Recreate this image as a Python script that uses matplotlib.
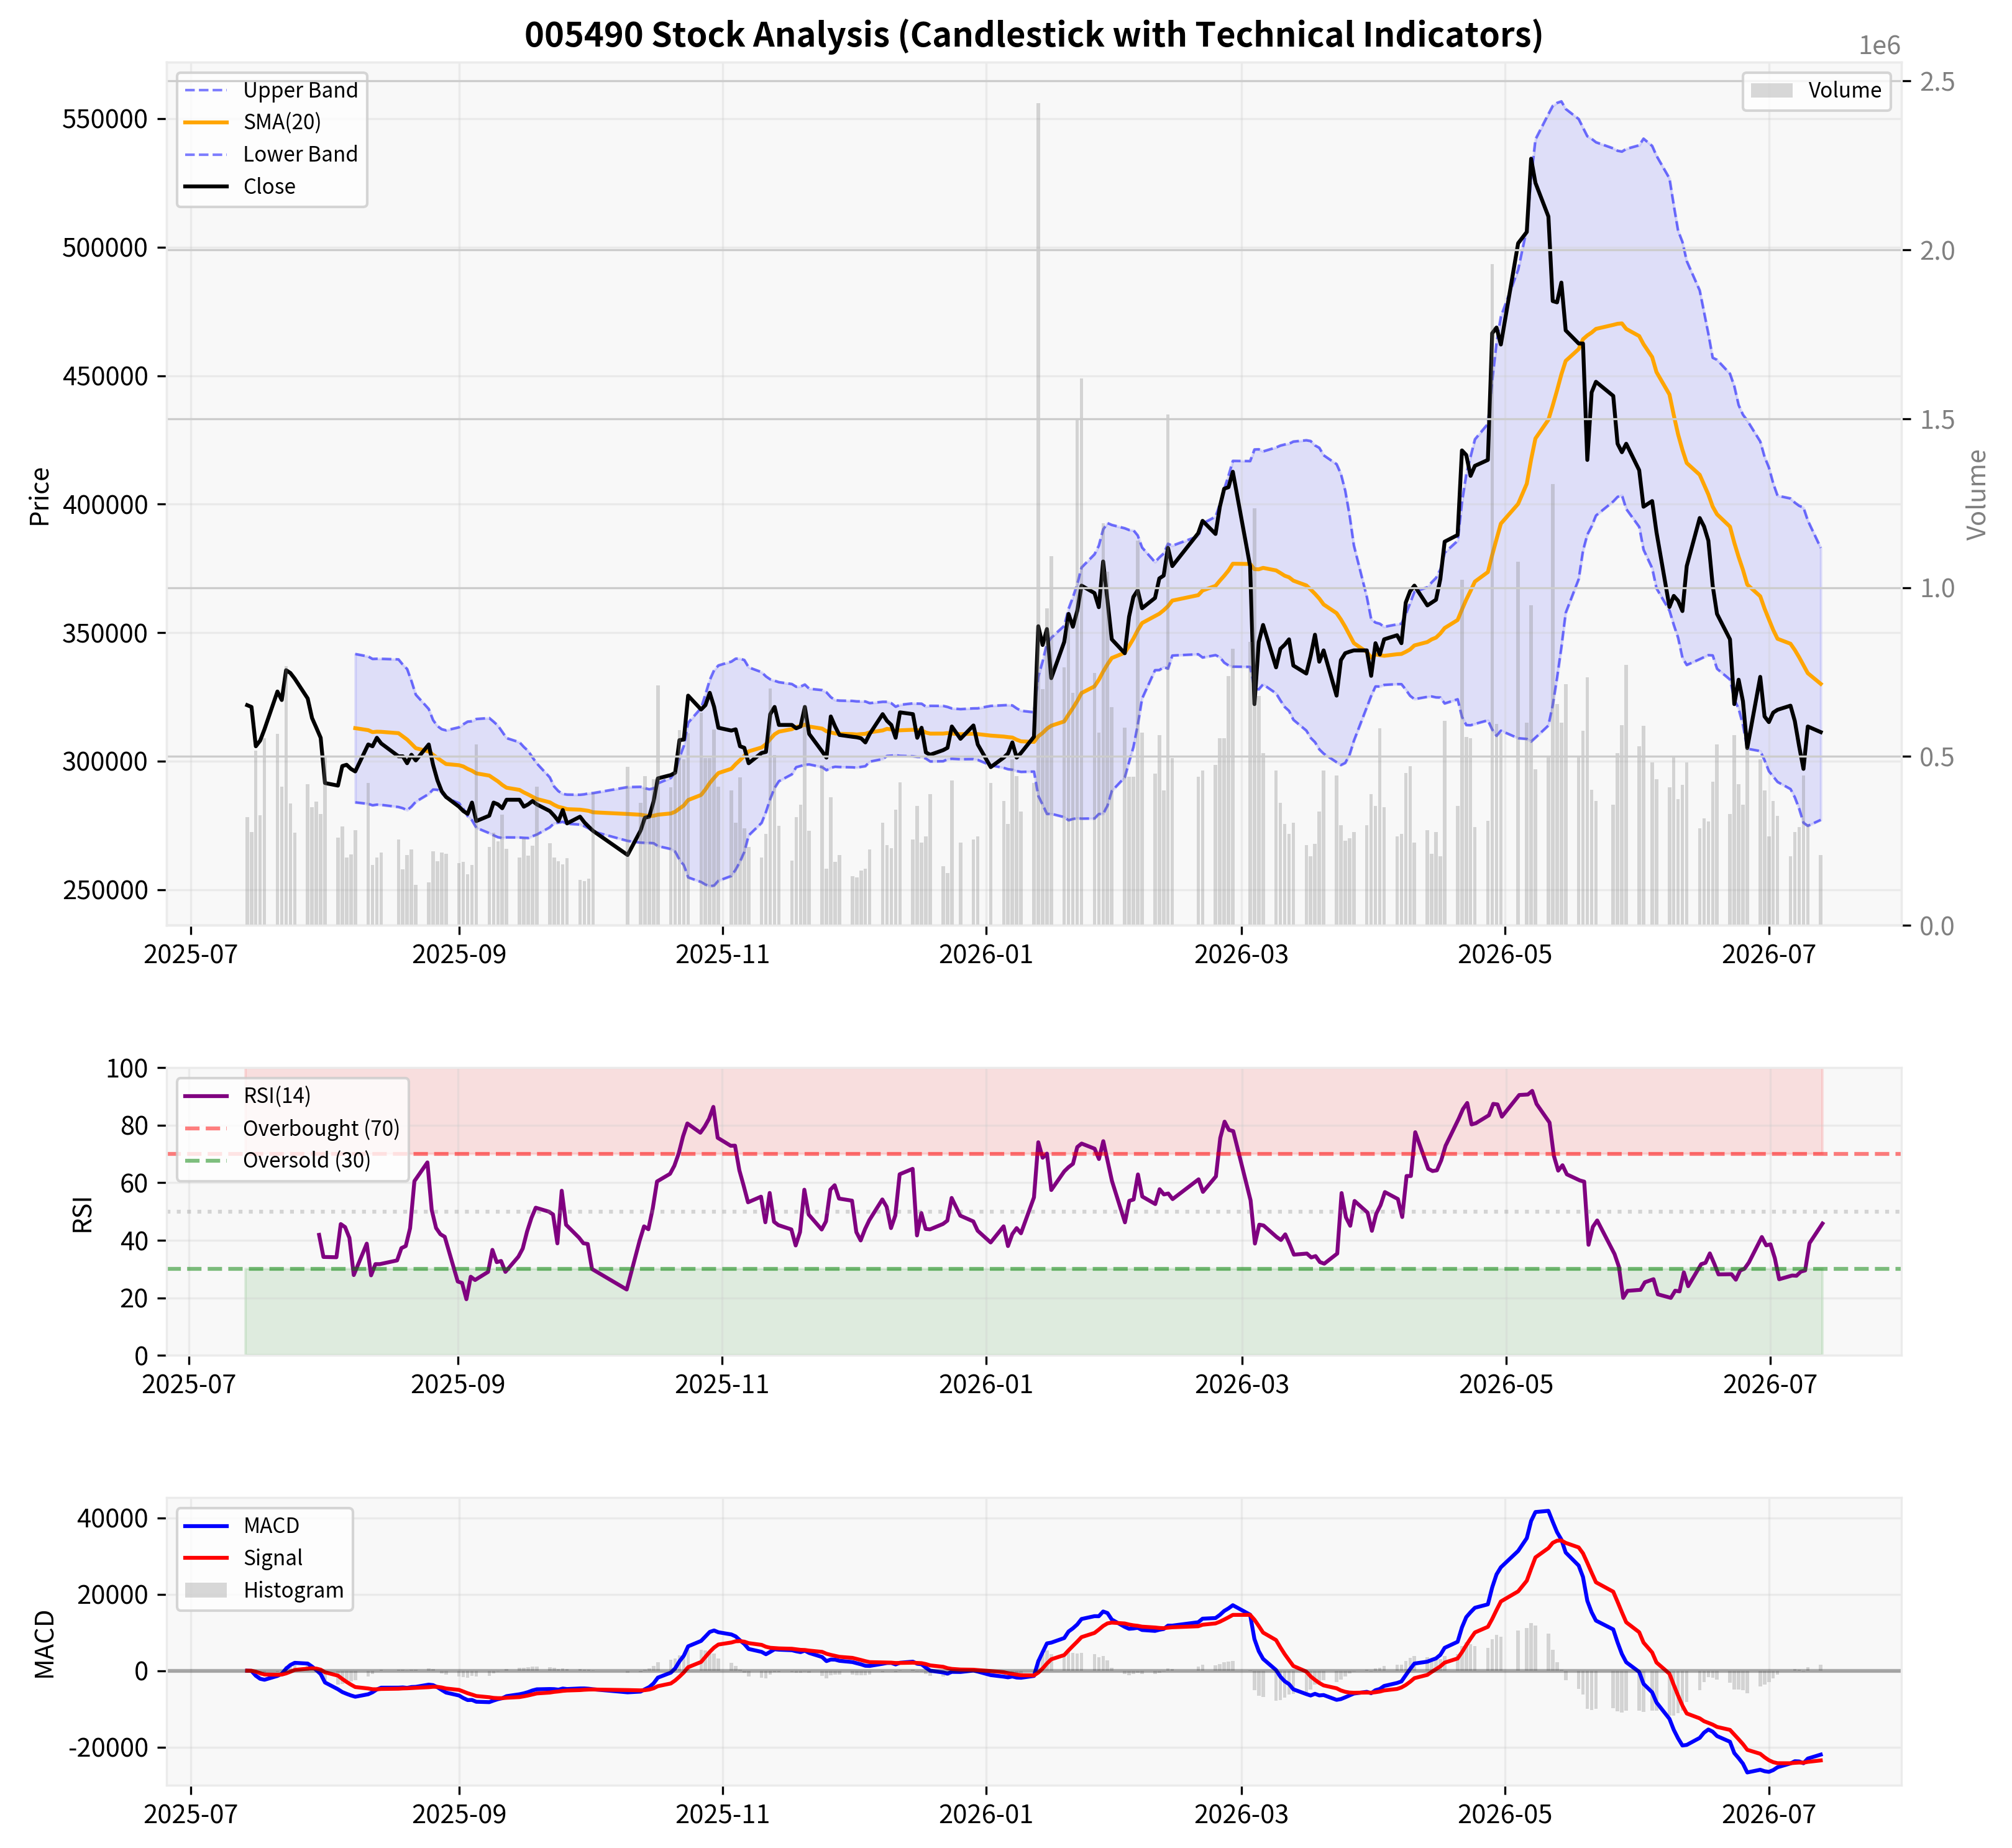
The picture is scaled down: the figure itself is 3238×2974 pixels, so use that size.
import numpy as np
import pandas as pd
import matplotlib
matplotlib.use("Agg")
import matplotlib.pyplot as plt
import matplotlib.dates as mdates

plt.rcParams['font.family'] = ['Noto Sans CJK KR', 'DejaVu Sans']
plt.rcParams['axes.unicode_minus'] = False

# ---------------- data ----------------
holidays = ['2025-08-15', '2025-10-03', '2025-10-06', '2025-10-07', '2025-10-08',
            '2025-10-09', '2025-12-25', '2025-12-31', '2026-01-01', '2026-02-16',
            '2026-02-17', '2026-02-18', '2026-03-02', '2026-05-01', '2026-05-05',
            '2026-05-25', '2026-06-03']
dates = pd.bdate_range('2025-07-14', '2026-07-13')
dates = dates[~dates.isin(pd.to_datetime(holidays))]

close = [
    321800, 321100, 305800, 308000, 312400,
    327100, 323800, 335400, 334300, 332100,
    324400, 316800, 313000, 309100, 291500,
    290500, 298100, 298600, 297000, 296000,
    306500, 305800, 309100, 306900,
    301900, 301900, 299200, 302500, 300300,
    306500, 298600, 292600, 288300, 286100,
    282300, 280600, 279500, 283900, 276700,
    278800, 283900, 283200, 281700, 285000,
    285000, 282300, 283200, 284500, 283200,
    280600, 278800, 276700, 281000, 275800,
    278400, 276200, 274500, 272900,
    263500,
    273000, 278000, 278400, 284300, 293300,
    294600, 295500, 308200, 308400, 325500,
    320100, 321800, 326600, 321200, 313000,
    311900, 312400, 305800, 305200, 299200,
    303200, 303600, 318300, 321100, 314100,
    314100, 312800, 313500, 321100, 310600,
    303800, 301400, 317400, 313500, 310200,
    309500, 309300, 308900, 307300, 310600,
    318300, 315700, 314100, 309100, 319000,
    318300, 309100, 313000, 303400, 302500,
    304300, 305200, 313500, 308700,
    313900, 306500, 297700,
    301400, 303000, 307300, 301400, 303200,
    309500, 352500, 345200, 351400, 332300,
    346400, 357300, 352300, 358400, 368300,
    365400, 359900, 377700, 362600, 347400,
    342000, 356200, 363900, 366500, 359500,
    363500, 371100, 372200, 383000, 375900,
    388700, 393500,
    388400, 399000, 406000, 406600, 412600,
    375900, 322200, 346400, 353000,
    336500, 343700, 345300, 347400, 337200,
    334100, 340900, 349200, 338700, 343100,
    325500, 339300, 342000, 342600, 343100,
    343100, 333200, 345900, 341500, 347400,
    349000, 345900, 361700, 366100, 368300,
    360600, 361700, 362800, 370900, 385400,
    388000, 420900, 419100, 411000, 414900,
    417200, 466500, 468700, 462100,
    501500, 505900, 534400, 525000,
    511900, 479000, 478500, 486200, 467600,
    462500, 462500, 417200, 443500, 447600,
    442100, 423500, 420200, 423500,
    413200, 399000, 401200, 389100,
    360000, 364300, 362400, 358400, 375900,
    394600, 391300, 385800, 368300, 357300,
    347400, 322200, 331700, 323300, 305100,
    332800, 317400, 315200, 318900, 320000,
    321600, 315600, 305800, 297000, 313500,
    311300,
]

volume = [
    321100, 276000, 516500, 326100, 554900,
    566600, 411300, 767000, 361200, 274300,
    417900, 349500, 366200, 329400, 496400,
    259300, 292700, 200900, 210900, 281000,
    421300, 179000, 200900, 215900,
    254300, 165800, 209200, 224200, 120700,
    127400, 219200, 190800, 215900, 212500,
    184200, 187500, 150800, 179000, 534900,
    232600, 274300, 249300, 327800, 225900,
    200900, 257600, 205900, 235900, 411300,
    242600, 200900, 190800, 180800, 199200,
    134100, 130700, 139100, 392900,
    468900,
    362900, 441300, 321100, 433000, 710200,
    408000, 455000, 578000, 491000, 568200,
    630000, 496000, 496000, 580000, 410000,
    400000, 304000, 438000, 288000, 232600,
    201000, 271000, 702000, 505000, 294000,
    191000, 321000, 358000, 652000, 280000,
    475000, 167500, 379600, 187500, 207500,
    146000, 142500, 162500, 167500, 224000,
    304400, 237600, 229200, 342800, 423000,
    254300, 354500, 246000, 262700, 387900,
    175800, 154100, 429700, 246000,
    254300, 262700, 421300,
    367900, 301100, 491400, 441300, 337800,
    421000, 2434000, 700000, 939000, 1092600,
    763700, 900000, 688500, 1498500, 1618700,
    747000, 571000, 1190000, 1047000, 647000,
    585000, 441000, 441000, 1140000, 571000,
    450000, 563000, 400000, 1511800, 496000,
    441000, 458000,
    475000, 555000, 555000, 738600, 818800,
    838800, 1234600, 680000, 510000,
    458000, 362900, 301000, 271000, 304000,
    237600, 204200, 241000, 337800, 458000,
    443000, 296000, 251000, 258000, 276000,
    296000, 388000, 354500, 583000, 349500,
    262700, 271000, 451200, 471000, 246000,
    282700, 212500, 276000, 204200, 605000,
    354500, 1022500, 558200, 554900, 291000,
    309400, 1957700, 596700, 568200,
    1076000, 600000, 947300, 463000,
    496400, 1306400, 655100, 600000, 713500,
    501400, 576600, 733600, 401300, 367900,
    357900, 509800, 593200, 772000,
    529800, 591600, 483100, 433000,
    409600, 501400, 374500, 416300, 483100,
    287700, 317700, 307700, 426300, 534900,
    329400, 563200, 417900, 357900, 524800,
    491400, 399600, 262700, 367900, 324400,
    204200, 276000, 291000, 442900, 299400,
    207500,
]

df = pd.DataFrame({'Close': close, 'Volume': volume}, index=dates)

# indicators
df['SMA20'] = df['Close'].rolling(20).mean()
std20 = df['Close'].rolling(20).std()
df['Upper'] = df['SMA20'] + 2 * std20
df['Lower'] = df['SMA20'] - 2 * std20
delta = df['Close'].diff()
gain = delta.where(delta > 0, 0).rolling(14).mean()
loss = (-delta.where(delta < 0, 0)).rolling(14).mean()
df['RSI'] = 100 - 100 / (1 + gain / loss)
ema12 = df['Close'].ewm(span=12, adjust=False).mean()
ema26 = df['Close'].ewm(span=26, adjust=False).mean()
df['MACD'] = ema12 - ema26
df['Signal'] = df['MACD'].ewm(span=9, adjust=False).mean()
df['Hist'] = df['MACD'] - df['Signal']

# ---------------- figure ----------------
fig = plt.figure(figsize=(3238 / 300, 2974 / 300), dpi=300)
gs = fig.add_gridspec(3, 1, height_ratios=[3, 1, 1], left=0.0828, right=0.945,
                      top=0.9664, bottom=0.0338, hspace=0.2967)
ax1 = fig.add_subplot(gs[0])
ax3 = fig.add_subplot(gs[1])
ax4 = fig.add_subplot(gs[2])

bg = '#f8f8f8'
for ax in (ax1, ax3, ax4):
    ax.set_facecolor(bg)
    ax.grid(True, color='#cccccc', alpha=0.3, linewidth=0.8)
    for s in ax.spines.values():
        s.set_color('#ebebeb')
        s.set_linewidth(0.8)
    ax.xaxis.set_major_locator(mdates.MonthLocator(bymonth=[1, 3, 5, 7, 9, 11]))
    ax.xaxis.set_major_formatter(mdates.DateFormatter('%Y-%m'))
    ax.tick_params(labelsize=10)

# price panel
ax1.fill_between(df.index, df['Upper'], df['Lower'], color='blue', alpha=0.1)
ax1.plot(df.index, df['Upper'], color='blue', linestyle='--', alpha=0.5, linewidth=1, label='Upper Band')
ax1.plot(df.index, df['SMA20'], color='orange', linewidth=1.5, label='SMA(20)')
ax1.plot(df.index, df['Lower'], color='blue', linestyle='--', alpha=0.5, linewidth=1, label='Lower Band')
ax1.plot(df.index, df['Close'], color='black', linewidth=1.5, label='Close')
ax1.set_ylabel('Price', fontsize=10)
ax1.set_title('005490 Stock Analysis (Candlestick with Technical Indicators)',
              fontsize=13, fontweight='bold')
ax1.legend(loc='upper left', fontsize=8)

ax2 = ax1.twinx()
ax2.bar(df.index, df['Volume'], color='gray', alpha=0.3, label='Volume')
ax2.set_ylabel('Volume', color='gray', fontsize=10)
ax2.tick_params(axis='y', labelcolor='gray', labelsize=10)
ax2.yaxis.get_offset_text().set_color('gray')
ax2.grid(True, axis='y', color='#cccccc', linewidth=0.8)
for s in ax2.spines.values():
    s.set_color('#ebebeb')
    s.set_linewidth(0.8)
ax2.legend(loc='upper right', fontsize=8)

# RSI panel
ax3.plot(df.index, df['RSI'], color='purple', linewidth=1.5, label='RSI(14)')
ax3.axhline(70, color='red', linestyle='--', alpha=0.5, label='Overbought (70)')
ax3.axhline(30, color='green', linestyle='--', alpha=0.5, label='Oversold (30)')
ax3.axhline(50, color='gray', linestyle=':', alpha=0.3)
ax3.fill_between(df.index, 70, 100, color='red', alpha=0.1)
ax3.fill_between(df.index, 0, 30, color='green', alpha=0.1)
ax3.set_ylim(0, 100)
ax3.set_ylabel('RSI', fontsize=10)
ax3.legend(loc='upper left', fontsize=8)

# MACD panel
ax4.plot(df.index, df['MACD'], color='blue', linewidth=1.5, label='MACD')
ax4.plot(df.index, df['Signal'], color='red', linewidth=1.5, label='Signal')
ax4.bar(df.index, df['Hist'], color='gray', alpha=0.3, label='Histogram')
ax4.axhline(0, color='black', linestyle='-', alpha=0.3, linewidth=1.5)
ax4.set_ylabel('MACD', fontsize=10)
ax4.legend(loc='upper left', fontsize=8)

fig.savefig('out.png', dpi=300)
